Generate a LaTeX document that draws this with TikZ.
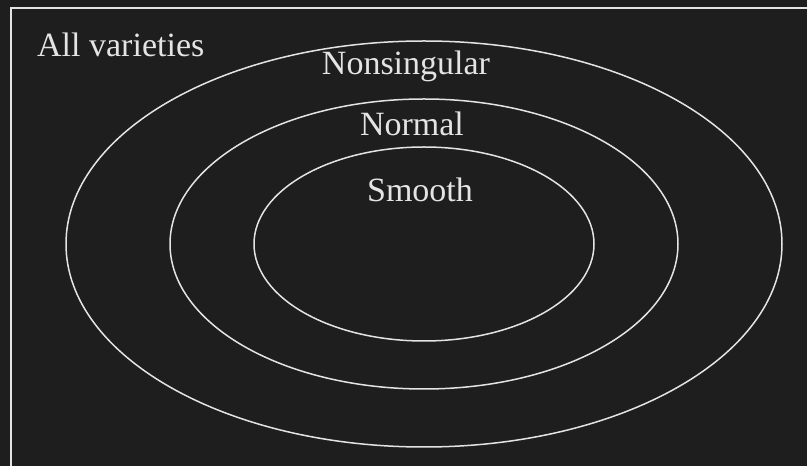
\documentclass[tikz,border=0pt]{standalone}
\usepackage{fontspec}
\setmainfont{Liberation Serif}
\usetikzlibrary{positioning}
\definecolor{bgdark}{RGB}{30,30,30}
\definecolor{fgline}{RGB}{228,228,228}
\tikzset{region/.style={draw=fgline, line width=1.5pt},
	lbl/.style={text=fgline, font=\fontsize{34}{40}\selectfont, inner sep=0pt, anchor=base}}
\begin{document}
\begin{tikzpicture}[x=1pt,y=1pt]
		\fill[bgdark] (0,0) rectangle (807,466);
		\useasboundingbox (0,0) rectangle (807,466);
		\draw[fgline, line width=2pt] (11,-20) rectangle (830,458);
		% nested classes
		\draw[region] (424,222) ellipse (358 and 203);
		\draw[region] (424,222) ellipse (254 and 145);
		\draw[region] (424,222) ellipse (170 and 97);
		\node[lbl, anchor=base west] (allvar) at (37,409.3) {All varieties};
		\node[lbl] (nonsing) at (406,391) {Nonsingular};
		\node[lbl] (normal) at (412,330.3) {Normal};
		\node[lbl] (smooth) at (420,264) {Smooth};
	\end{tikzpicture}
\end{document}
